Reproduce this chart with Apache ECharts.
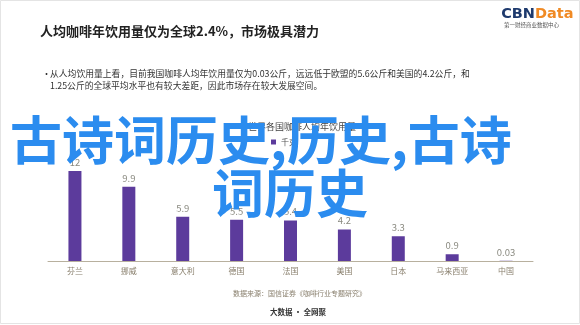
<!DOCTYPE html>
<html>
<head>
<meta charset="utf-8">
<script src="https://cdn.jsdelivr.net/npm/echarts@6/dist/echarts.min.js"></script>
<style>html,body{margin:0;padding:0;background:#fff}#c{width:580px;height:325px}</style>
</head>
<body>
<div id="c"></div>
<script>
const categories = ['芬兰','挪威','意大利','德国','法国','美国','日本','马来西亚','中国'];
const values = [12, 9.9, 5.9, 5.5, 5.4, 4.2, 3.3, 0.9, 0.03];
const valueLabels = ['12','9.9','5.9','5.5','5.4','4.2','3.3','0.9','0.03'];
const seriesName = '千克';
const chartTitle = '世界各国咖啡人均年饮用量';
const headline = '人均咖啡年饮用量仅为全球2.4%，市场极具潜力';
const bulletLine1 = '从人均饮用量上看，目前我国咖啡人均年饮用量仅为0.03公斤，远远低于欧盟的5.6公斤和美国的4.2公斤，和';
const bulletLine2 = '1.25公斤的全球平均水平也有较大差距，因此市场存在较大发展空间。';
const sourceText = '数据来源：国信证券《咖啡行业专题研究》';
const footerText = '大数据 · 全网聚';
const overlayLine1 = '古诗词历史,历史,古诗';
const overlayLine2 = '词历史';

const font = '"Noto Sans CJK SC", "Noto Sans", sans-serif';
const logoFont = 'bold 14.5px "DejaVu Sans", sans-serif';
const chart = echarts.init(document.getElementById('c'), null, {renderer: 'canvas'});
chart.setOption({
  backgroundColor: '#ffffff',
  animation: false,
  textStyle: {fontFamily: font},
  title: [{
    text: chartTitle, left: 243, top: 117,
    textStyle: {fontSize: 9, fontWeight: 'normal', color: '#444', fontFamily: font}
  }],
  legend: {
    data: [seriesName], left: 266, top: 133, icon: 'rect', itemWidth: 5, itemHeight: 5, itemGap: 4,
    textStyle: {fontSize: 8, color: '#555', fontFamily: font}
  },
  grid: {left: 48, right: 47, top: 111, bottom: 64},
  xAxis: {
    type: 'category', data: categories,
    axisLine: {lineStyle: {color: '#b8b09e', width: 1}},
    axisTick: {show: false},
    axisLabel: {fontSize: 8, color: '#8a806e', margin: 6, fontFamily: font}
  },
  yAxis: {type: 'value', min: 0, max: 20, show: false, splitLine: {show: false}},
  series: [{
    name: seriesName, type: 'bar', data: values, barWidth: 13,
    itemStyle: {color: '#5c3b9c'},
    label: {
      show: true, position: 'top', distance: 4, fontSize: 9.5, color: '#8a8a80', fontFamily: font,
      formatter: p => valueLabels[p.dataIndex]
    }
  }],
  graphic: [
    {type: 'rect', z: 0, shape: {x: 0.5, y: 0.5, width: 579, height: 323}, style: {fill: 'none', stroke: '#e4e4e4', lineWidth: 1}},
    {type: 'text', left: 40, top: 25, style: {text: headline, font: 'bold 13px ' + font, fill: '#222'}},
    {type: 'text', left: 42, top: 69, style: {text: '•', font: '9px ' + font, fill: '#333'}},
    {type: 'text', left: 50, top: 69, style: {text: bulletLine1, font: '8.8px ' + font, fill: '#333'}},
    {type: 'text', left: 50, top: 81, style: {text: bulletLine2, font: '8.8px ' + font, fill: '#333'}},
    {type: 'text', left: 233, top: 290, style: {text: sourceText, font: '7px ' + font, fill: '#8a806e'}},
    {type: 'text', left: 270, top: 308, style: {text: footerText, font: 'bold 7.5px ' + font, fill: '#333'}},
    {type: 'text', x: 535, y: 14, style: {text: 'CBN', font: logoFont, fill: '#1e3a6d', verticalAlign: 'middle', align: 'right'}},
    {type: 'text', x: 535, y: 14, style: {text: 'Data', font: logoFont, fill: '#f08a24', verticalAlign: 'middle', align: 'left'}},
    {type: 'text', left: 504, top: 22, style: {text: '第一财经商业数据中心', font: '5.5px ' + font, fill: '#555'}},
    {type: 'text', z: 100, x: 10, y: 140, style: {text: overlayLine1, font: 'bold 52px ' + font, fill: '#2b8cef', verticalAlign: 'middle', align: 'left'}},
    {type: 'text', z: 100, x: 290, y: 193, style: {text: overlayLine2, font: 'bold 52px ' + font, fill: '#2b8cef', verticalAlign: 'middle', align: 'center'}}
  ]
});
</script>
</body>
</html>
